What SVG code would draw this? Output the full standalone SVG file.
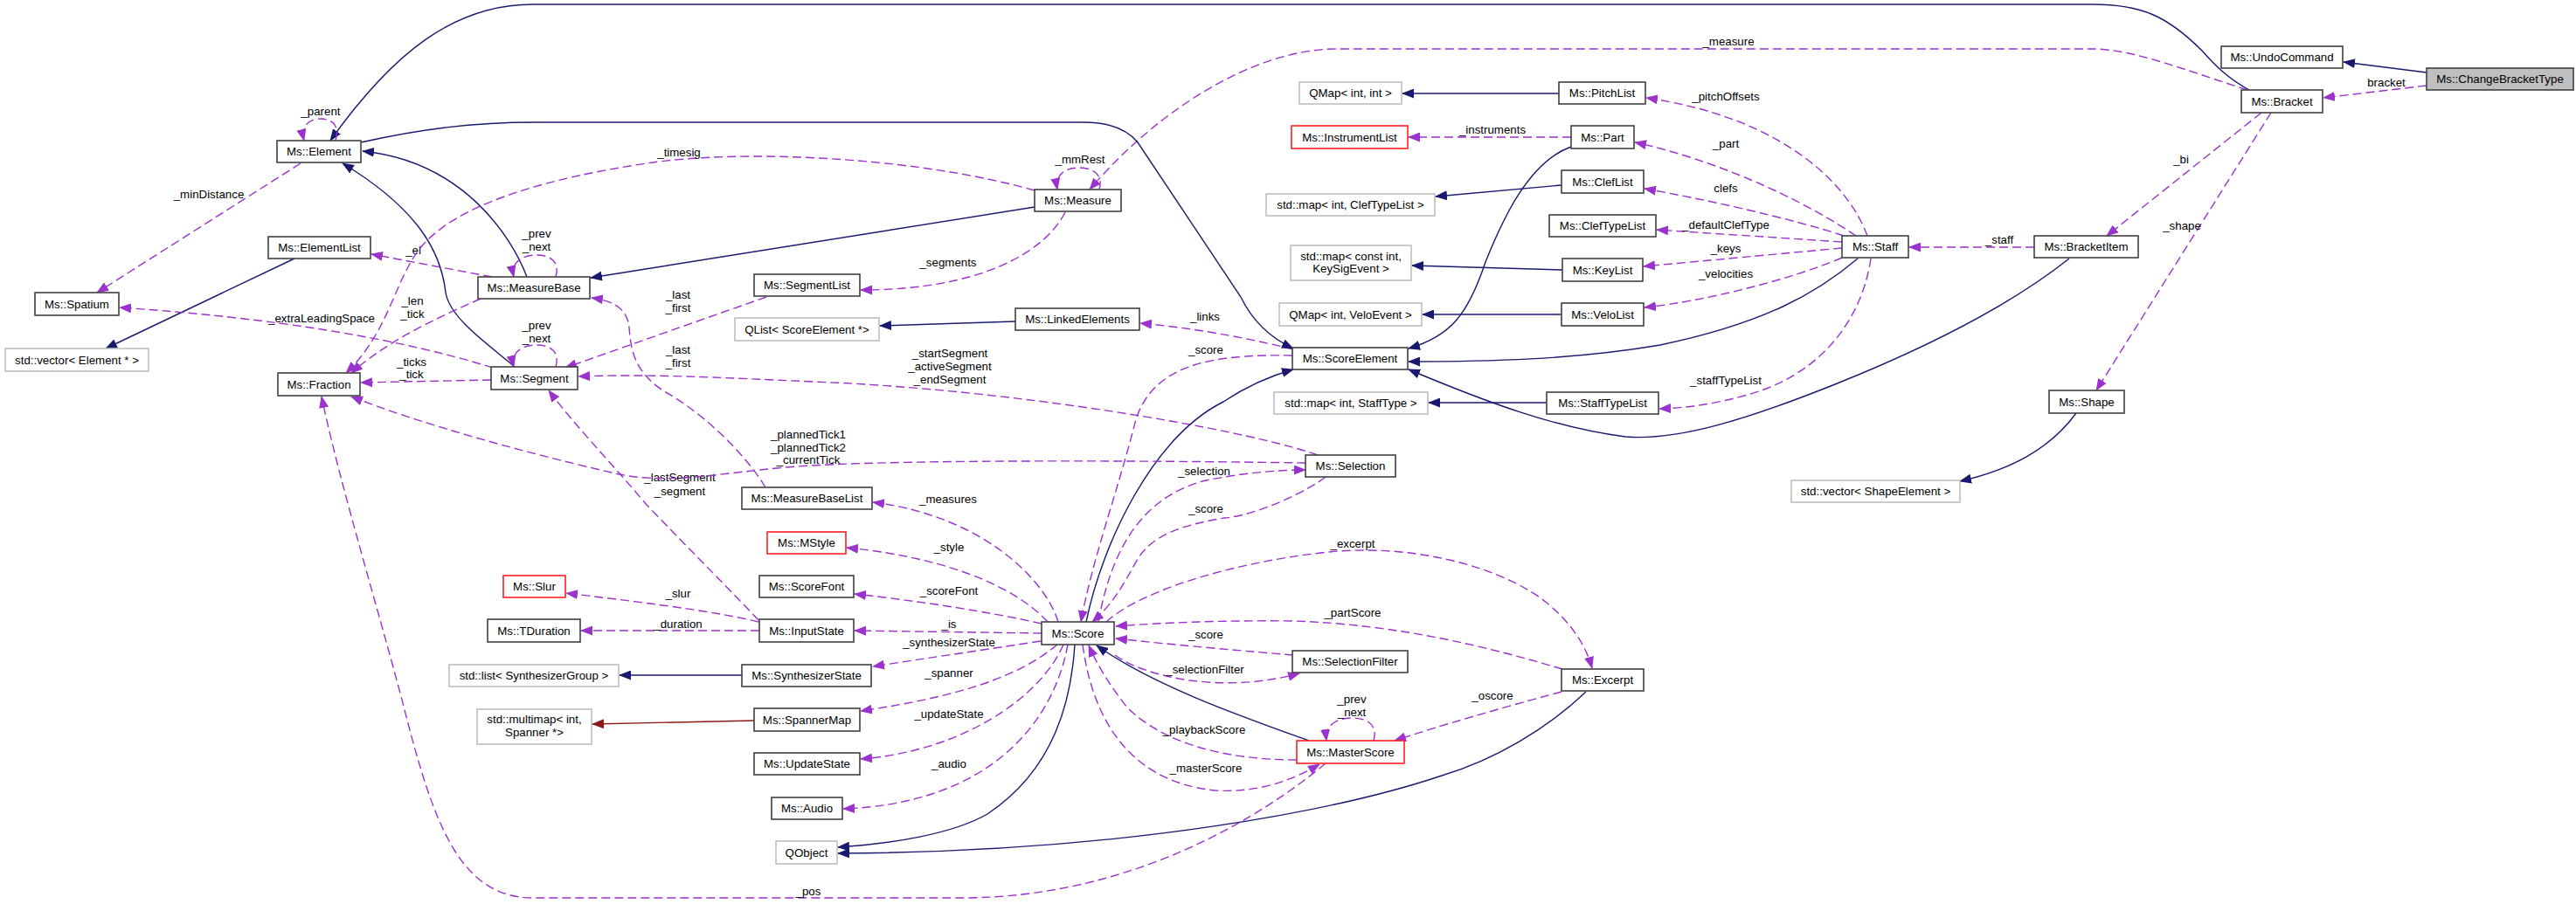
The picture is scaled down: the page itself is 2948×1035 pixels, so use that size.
<svg xmlns="http://www.w3.org/2000/svg" width="2948" height="1035" viewBox="0 0 2948 1035">
<style>
.nd rect{fill:#fff;stroke:#404040;stroke-width:1.6}
.nd.gr rect{stroke:#bfbfbf}
.nd.rd rect{stroke:#ff2020}
.nd.hl rect{fill:#bfbfbf}
text{font-family:"Liberation Sans",Arial,Helvetica,sans-serif;font-size:13.3px;fill:#000}
.nd text{text-anchor:middle}
.lb{text-anchor:middle}
.inh{fill:none;stroke:#191970;stroke-width:1.4}
.use{fill:none;stroke:#9a32cd;stroke-width:1.4;stroke-dasharray:10,5}
.tpl{fill:none;stroke:#8b1a1a;stroke-width:1.4}
</style>
<defs>
<marker id="ab" markerUnits="userSpaceOnUse" markerWidth="14" markerHeight="11" viewBox="0 0 14 11" refX="13" refY="5.5" orient="auto"><path d="M0,0 L14,5.5 L0,11 z" fill="#191970"/></marker>
<marker id="ap" markerUnits="userSpaceOnUse" markerWidth="14" markerHeight="11" viewBox="0 0 14 11" refX="13" refY="5.5" orient="auto"><path d="M0,0 L14,5.5 L0,11 z" fill="#9a32cd"/></marker>
<marker id="ar" markerUnits="userSpaceOnUse" markerWidth="14" markerHeight="11" viewBox="0 0 14 11" refX="13" refY="5.5" orient="auto"><path d="M0,0 L14,5.5 L0,11 z" fill="#8b1a1a"/></marker>
</defs>
<rect width="2948" height="1035" fill="#fff"/>
<g id="connectors">
<path class="inh" marker-end="url(#ab)" d="M2777,83 L2682,71"/>
<path class="use" marker-end="url(#ap)" d="M2777,98 L2659,112"/><text class="lb" x="2731" y="99">bracket</text>
<path class="inh" marker-end="url(#ab)" d="M2574,103 C2550,90 2535,75 2520,58 C2480,18 2450,5 2395,5 L610,5 C520,5 450,60 378,161"/>
<path class="use" marker-end="url(#ap)" d="M2572,103 C2500,80 2440,56 2395,56 L1530,56 C1440,56 1330,120 1247,217"/><text class="lb" x="1978" y="52">_measure</text>
<path class="use" marker-end="url(#ap)" d="M1258,217 C1263,200 1251,192 1235,192 C1219,192 1207,200 1210,217"/><text class="lb" x="1236" y="187">_mmRest</text>
<path class="inh" marker-end="url(#ab)" d="M1184,237 L676,318"/>
<path class="inh" marker-end="url(#ab)" d="M603,317 C585,270 530,185 415,173"/>
<path class="use" marker-end="url(#ap)" d="M636,317 C641,300 630,292 614,292 C598,292 584,300 588,317"/><text class="lb" x="614" y="272">_prev</text><text class="lb" x="614" y="287">_next</text>
<path class="use" marker-end="url(#ap)" d="M563,317 L425,291"/><text class="lb" x="473" y="291">_el</text>
<path class="inh" marker-end="url(#ab)" d="M589,420 C560,395 515,365 510,335 C505,290 480,240 392,187"/>
<path class="inh" marker-end="url(#ab)" d="M337,296 L121,399"/>
<path class="use" marker-end="url(#ap)" d="M344,187 L111,335"/><text class="lb" x="239" y="227">_minDistance</text>
<path class="use" marker-end="url(#ap)" d="M384,161 C389,145 381,136 367,136 C353,136 344,145 348,161"/><text class="lb" x="367" y="132">_parent</text>
<path class="use" marker-end="url(#ap)" d="M562,435 L413,438"/><text class="lb" x="471" y="419">_ticks</text><text class="lb" x="471" y="433">_tick</text>
<path class="use" marker-end="url(#ap)" d="M564,421 Q400,370 137,352"/><text class="lb" x="368" y="369">_extraLeadingSpace</text>
<path class="use" marker-end="url(#ap)" d="M550,342 C510,360 450,385 402,427"/><text class="lb" x="472" y="349">_len</text><text class="lb" x="472" y="364">_tick</text>
<path class="use" marker-end="url(#ap)" d="M1184,218 C1050,180 850,170 740,187 C620,205 520,235 480,285 C450,325 445,380 396,427"/><text class="lb" x="777" y="179">_timesig</text>
<path class="use" marker-end="url(#ap)" d="M636,420 C641,403 630,395 614,395 C598,395 584,403 588,420"/><text class="lb" x="614" y="377">_prev</text><text class="lb" x="614" y="392">_next</text>
<path class="use" marker-end="url(#ap)" d="M877,340 L647,421"/><text class="lb" x="776" y="342">_last</text><text class="lb" x="776" y="357">_first</text>
<path class="use" marker-end="url(#ap)" d="M1219,243 C1195,290 1120,332 985,332"/><text class="lb" x="1085" y="305">_segments</text>
<path class="use" marker-end="url(#ap)" d="M1508,521 C1420,490 1150,445 930,437 C820,432 740,428 662,431"/><text class="lb" x="1087" y="409">_startSegment</text><text class="lb" x="1087" y="424">_activeSegment</text><text class="lb" x="1087" y="439">_endSegment</text>
<path class="use" marker-end="url(#ap)" d="M876,558 C850,515 800,470 760,448 C725,425 722,400 720,375 C718,355 705,345 677,341"/><text class="lb" x="776" y="405">_last</text><text class="lb" x="776" y="420">_first</text>
<path class="use" marker-end="url(#ap)" d="M868,710 C840,680 790,630 740,578 C700,530 660,490 628,447"/><text class="lb" x="778" y="551">_lastSegment</text><text class="lb" x="778" y="567">_segment</text>
<path class="use" marker-end="url(#ap)" d="M868,712 C810,698 720,688 648,679"/><text class="lb" x="776" y="684">_slur</text>
<path class="use" marker-end="url(#ap)" d="M869,722 L665,722"/><text class="lb" x="776" y="719">_duration</text>
<path class="use" marker-end="url(#ap)" d="M1192,725 L978,722"/><text class="lb" x="1086" y="719">_is</text>
<path class="use" marker-end="url(#ap)" d="M1191,734 L999,763"/><text class="lb" x="1086" y="740">_synthesizerState</text>
<path class="inh" marker-end="url(#ab)" d="M849,773 L709,773"/>
<path class="tpl" marker-end="url(#ar)" d="M863,825 L678,829"/>
<path class="use" marker-end="url(#ap)" d="M1210,738 C1160,780 1080,800 985,814"/><text class="lb" x="1086" y="775">_spanner</text>
<path class="use" marker-end="url(#ap)" d="M1217,738 C1190,800 1100,860 985,869"/><text class="lb" x="1086" y="822">_updateState</text>
<path class="use" marker-end="url(#ap)" d="M1222,738 C1205,830 1130,920 965,926"/><text class="lb" x="1086" y="879">_audio</text>
<path class="inh" marker-end="url(#ab)" d="M1230,738 C1226,800 1208,880 1130,932 C1090,955 1020,966 959,970"/>
<path class="inh" marker-end="url(#ab)" d="M1815,792 C1770,835 1710,870 1650,888 C1540,925 1300,975 959,977"/>
<path class="use" marker-end="url(#ap)" d="M1211,712 C1195,660 1120,590 999,575"/><text class="lb" x="1085" y="576">_measures</text>
<path class="use" marker-end="url(#ap)" d="M1199,712 C1170,680 1100,640 969,627"/><text class="lb" x="1086" y="631">_style</text>
<path class="use" marker-end="url(#ap)" d="M1192,714 C1130,700 1050,688 978,680"/><text class="lb" x="1086" y="681">_scoreFont</text>
<path class="inh" marker-end="url(#ab)" d="M1243,712 C1262,620 1320,500 1400,460 C1430,440 1455,430 1480,423"/>
<path class="use" marker-end="url(#ap)" d="M1479,407 C1380,405 1320,420 1300,480 C1280,560 1250,640 1237,712"/><text class="lb" x="1380" y="405">_score</text>
<path class="use" marker-end="url(#ap)" d="M1480,400 C1420,385 1360,375 1305,370"/><text class="lb" x="1379" y="367">_links</text>
<path class="inh" marker-end="url(#ab)" d="M1162,368 L1007,373"/>
<path class="inh" marker-end="url(#ab)" d="M413,163 C480,148 540,140 613,140 L1240,140 C1270,140 1290,148 1302,163 L1420,340 C1432,365 1450,385 1480,399"/>
<path class="inh" marker-end="url(#ab)" d="M1798,168 C1750,185 1720,250 1700,300 C1680,360 1660,385 1612,399"/>
<path class="inh" marker-end="url(#ab)" d="M2126,296 C2080,335 2020,370 1900,395 C1800,412 1700,414 1612,414"/>
<path class="inh" marker-end="url(#ab)" d="M2368,296 C2300,350 2200,400 2100,440 C2000,480 1920,505 1860,500 C1780,490 1700,460 1612,423"/>
<path class="use" marker-end="url(#ap)" d="M2588,129 L2411,270"/><text class="lb" x="2496" y="187">_bi</text>
<path class="use" marker-end="url(#ap)" d="M2599,129 L2399,447"/><text class="lb" x="2497" y="263">_shape</text>
<path class="inh" marker-end="url(#ab)" d="M2376,473 C2345,515 2300,538 2243,551"/>
<path class="use" marker-end="url(#ap)" d="M2328,283 L2185,283"/><text class="lb" x="2288" y="279">_staff</text>
<path class="use" marker-end="url(#ap)" d="M2137,270 C2115,210 2040,135 1884,112"/><text class="lb" x="1975" y="115">_pitchOffsets</text>
<path class="use" marker-end="url(#ap)" d="M2124,270 C2050,220 1950,180 1871,163"/><text class="lb" x="1975" y="169">_part</text>
<path class="use" marker-end="url(#ap)" d="M2110,270 C2050,250 1950,228 1882,216"/><text class="lb" x="1975" y="220">clefs</text>
<path class="use" marker-end="url(#ap)" d="M2108,277 L1896,263"/><text class="lb" x="1975" y="262">_defaultClefType</text>
<path class="use" marker-end="url(#ap)" d="M2108,284 L1881,305"/><text class="lb" x="1975" y="289">_keys</text>
<path class="use" marker-end="url(#ap)" d="M2108,295 C2050,320 1950,345 1882,352"/><text class="lb" x="1975" y="318">_velocities</text>
<path class="use" marker-end="url(#ap)" d="M2141,296 C2130,370 2080,430 2000,452 C1960,463 1930,467 1899,468"/><text class="lb" x="1975" y="440">_staffTypeList</text>
<path class="inh" marker-end="url(#ab)" d="M1784,107 L1605,107"/>
<path class="use" marker-end="url(#ap)" d="M1798,157 L1612,157"/><text class="lb" x="1708" y="153">_instruments</text>
<path class="inh" marker-end="url(#ab)" d="M1787,212 L1643,225"/>
<path class="inh" marker-end="url(#ab)" d="M1788,309 L1616,304"/>
<path class="inh" marker-end="url(#ab)" d="M1787,360 L1628,360"/>
<path class="inh" marker-end="url(#ab)" d="M1770,461 L1635,461"/>
<path class="use" marker-end="url(#ap)" d="M1276,750 C1310,775 1400,795 1487,771"/><text class="lb" x="1379" y="771">_selectionFilter</text>
<path class="use" marker-end="url(#ap)" d="M1480,750 C1420,745 1340,738 1277,731"/><text class="lb" x="1380" y="731">_score</text>
<path class="use" marker-end="url(#ap)" d="M1788,766 C1700,740 1600,715 1480,711 C1400,710 1330,713 1277,717"/><text class="lb" x="1548" y="706">_partScore</text>
<path class="use" marker-end="url(#ap)" d="M1266,712 C1300,680 1400,645 1520,632 C1620,622 1720,650 1770,690 C1800,715 1815,740 1822,765"/><text class="lb" x="1548" y="627">_excerpt</text>
<path class="use" marker-end="url(#ap)" d="M1257,712 C1270,640 1300,570 1380,550 C1420,542 1460,538 1494,538"/><text class="lb" x="1378" y="544">_selection</text>
<path class="use" marker-end="url(#ap)" d="M1517,546 C1500,560 1440,590 1401,593 C1360,600 1320,610 1302,640 C1285,670 1275,690 1250,712"/><text class="lb" x="1380" y="587">_score</text>
<path class="use" marker-end="url(#ap)" d="M1572,848 C1577,830 1565,822 1547,822 C1530,822 1516,830 1518,848"/><text class="lb" x="1547" y="805">_prev</text><text class="lb" x="1547" y="820">_next</text>
<path class="use" marker-end="url(#ap)" d="M1787,792 C1720,810 1650,830 1596,848"/><text class="lb" x="1708" y="801">_oscore</text>
<path class="inh" marker-end="url(#ab)" d="M1498,848 C1420,820 1320,785 1255,739"/>
<path class="use" marker-end="url(#ap)" d="M1484,870 C1400,870 1330,850 1290,810 C1270,785 1255,760 1246,739"/><text class="lb" x="1378" y="840">_playbackScore</text>
<path class="use" marker-end="url(#ap)" d="M1239,738 C1250,820 1290,895 1391,905 C1440,908 1480,893 1510,875"/><text class="lb" x="1380" y="884">_masterScore</text>
<path class="use" marker-end="url(#ap)" d="M1517,874 C1450,930 1300,1028 1100,1028 L610,1028 C530,1028 500,950 470,840 C440,720 390,560 368,454"/><text class="lb" x="925" y="1025">_pos</text>
<path class="use" marker-end="url(#ap)" d="M1494,530 C1300,527 1000,526 900,535 C820,542 760,556 700,541 C600,518 480,485 402,454"/><text class="lb" x="925" y="502">_plannedTick1</text><text class="lb" x="925" y="517">_plannedTick2</text><text class="lb" x="925" y="531">_currentTick</text>
</g>
<g id="n-ChangeBracketType" class="nd hl"><rect x="2777" y="78" width="168" height="25"/><text x="2861" y="95">Ms::ChangeBracketType</text></g>
<g id="n-UndoCommand" class="nd"><rect x="2542" y="53" width="139" height="25"/><text x="2611.5" y="70">Ms::UndoCommand</text></g>
<g id="n-Bracket" class="nd"><rect x="2565" y="103" width="93" height="26"/><text x="2611.5" y="120.7">Ms::Bracket</text></g>
<g id="n-BracketItem" class="nd"><rect x="2328" y="270" width="119" height="25"/><text x="2387.5" y="287">Ms::BracketItem</text></g>
<g id="n-Shape" class="nd"><rect x="2345" y="447" width="86" height="26"/><text x="2388" y="464.7">Ms::Shape</text></g>
<g id="n-vectorShapeElement" class="nd gr"><rect x="2050" y="550" width="193" height="25"/><text x="2146.5" y="567">std::vector&lt; ShapeElement &gt;</text></g>
<g id="n-Staff" class="nd"><rect x="2108" y="270" width="76" height="25"/><text x="2146" y="287">Ms::Staff</text></g>
<g id="n-PitchList" class="nd"><rect x="1784" y="94" width="99" height="25"/><text x="1833.5" y="111">Ms::PitchList</text></g>
<g id="n-Part" class="nd"><rect x="1798" y="144" width="72" height="26"/><text x="1834" y="161.7">Ms::Part</text></g>
<g id="n-ClefList" class="nd"><rect x="1787" y="195" width="94" height="26"/><text x="1834" y="212.7">Ms::ClefList</text></g>
<g id="n-ClefTypeList" class="nd"><rect x="1773" y="246" width="122" height="25"/><text x="1834" y="263">Ms::ClefTypeList</text></g>
<g id="n-KeyList" class="nd"><rect x="1788" y="296" width="92" height="26"/><text x="1834" y="313.7">Ms::KeyList</text></g>
<g id="n-VeloList" class="nd"><rect x="1787" y="347" width="94" height="26"/><text x="1834" y="364.7">Ms::VeloList</text></g>
<g id="n-StaffTypeList" class="nd"><rect x="1770" y="449" width="128" height="25"/><text x="1834" y="466">Ms::StaffTypeList</text></g>
<g id="n-Excerpt" class="nd"><rect x="1787" y="766" width="94" height="25"/><text x="1834" y="783">Ms::Excerpt</text></g>
<g id="n-QMapIntInt" class="nd gr"><rect x="1487" y="94" width="117" height="25"/><text x="1545.5" y="111">QMap&lt; int, int &gt;</text></g>
<g id="n-InstrumentList" class="nd rd"><rect x="1478" y="144" width="133" height="26"/><text x="1544.5" y="161.7">Ms::InstrumentList</text></g>
<g id="n-mapClefTypeList" class="nd gr"><rect x="1449" y="222" width="193" height="25"/><text x="1545.5" y="239">std::map&lt; int, ClefTypeList &gt;</text></g>
<g id="n-mapKeySigEvent" class="nd gr"><rect x="1477" y="281" width="138" height="40"/><text x="1546" y="297.5">std::map&lt; const int,</text><text x="1546" y="312">KeySigEvent &gt;</text></g>
<g id="n-QMapVeloEvent" class="nd gr"><rect x="1464" y="347" width="163" height="26"/><text x="1545.5" y="364.7">QMap&lt; int, VeloEvent &gt;</text></g>
<g id="n-ScoreElement" class="nd"><rect x="1479" y="398" width="132" height="25"/><text x="1545" y="415">Ms::ScoreElement</text></g>
<g id="n-mapStaffType" class="nd gr"><rect x="1458" y="449" width="176" height="25"/><text x="1546" y="466">std::map&lt; int, StaffType &gt;</text></g>
<g id="n-Selection" class="nd"><rect x="1494" y="521" width="103" height="25"/><text x="1545.5" y="538">Ms::Selection</text></g>
<g id="n-SelectionFilter" class="nd"><rect x="1479" y="745" width="132" height="25"/><text x="1545" y="762">Ms::SelectionFilter</text></g>
<g id="n-MasterScore" class="nd rd"><rect x="1484" y="848" width="123" height="26"/><text x="1545.5" y="865.7">Ms::MasterScore</text></g>
<g id="n-Measure" class="nd"><rect x="1184" y="217" width="99" height="25"/><text x="1233.5" y="234">Ms::Measure</text></g>
<g id="n-LinkedElements" class="nd"><rect x="1162" y="353" width="142" height="25"/><text x="1233" y="370">Ms::LinkedElements</text></g>
<g id="n-Score" class="nd"><rect x="1192" y="712" width="83" height="26"/><text x="1233.5" y="729.7">Ms::Score</text></g>
<g id="n-SegmentList" class="nd"><rect x="863" y="314" width="121" height="25"/><text x="923.5" y="331">Ms::SegmentList</text></g>
<g id="n-QListScoreElement" class="nd gr"><rect x="841" y="364" width="165" height="26"/><text x="923.5" y="381.7">QList&lt; ScoreElement *&gt;</text></g>
<g id="n-MeasureBaseList" class="nd"><rect x="849" y="558" width="149" height="25"/><text x="923.5" y="575">Ms::MeasureBaseList</text></g>
<g id="n-MStyle" class="nd rd"><rect x="878" y="609" width="90" height="25"/><text x="923" y="626">Ms::MStyle</text></g>
<g id="n-ScoreFont" class="nd"><rect x="869" y="659" width="108" height="25"/><text x="923" y="676">Ms::ScoreFont</text></g>
<g id="n-InputState" class="nd"><rect x="869" y="709" width="108" height="26"/><text x="923" y="726.7">Ms::InputState</text></g>
<g id="n-SynthesizerState" class="nd"><rect x="849" y="761" width="148" height="25"/><text x="923" y="778">Ms::SynthesizerState</text></g>
<g id="n-SpannerMap" class="nd"><rect x="863" y="811" width="121" height="26"/><text x="923.5" y="828.7">Ms::SpannerMap</text></g>
<g id="n-UpdateState" class="nd"><rect x="863" y="862" width="121" height="25"/><text x="923.5" y="879">Ms::UpdateState</text></g>
<g id="n-Audio" class="nd"><rect x="883" y="913" width="81" height="25"/><text x="923.5" y="930">Ms::Audio</text></g>
<g id="n-QObject" class="nd gr"><rect x="888" y="963" width="70" height="26"/><text x="923" y="980.7">QObject</text></g>
<g id="n-MeasureBase" class="nd"><rect x="547" y="317" width="128" height="25"/><text x="611" y="334">Ms::MeasureBase</text></g>
<g id="n-Segment" class="nd"><rect x="562" y="420" width="99" height="26"/><text x="611.5" y="437.7">Ms::Segment</text></g>
<g id="n-Slur" class="nd rd"><rect x="576" y="659" width="71" height="25"/><text x="611.5" y="676">Ms::Slur</text></g>
<g id="n-TDuration" class="nd"><rect x="558" y="709" width="106" height="26"/><text x="611" y="726.7">Ms::TDuration</text></g>
<g id="n-listSynthesizerGroup" class="nd gr"><rect x="514" y="761" width="194" height="25"/><text x="611" y="778">std::list&lt; SynthesizerGroup &gt;</text></g>
<g id="n-multimapSpanner" class="nd gr"><rect x="546" y="812" width="131" height="40"/><text x="611.5" y="828">std::multimap&lt; int,</text><text x="611.5" y="843">Spanner *&gt;</text></g>
<g id="n-Element" class="nd"><rect x="317" y="161" width="96" height="25"/><text x="365" y="178">Ms::Element</text></g>
<g id="n-ElementList" class="nd"><rect x="307" y="271" width="117" height="25"/><text x="365.5" y="288">Ms::ElementList</text></g>
<g id="n-Fraction" class="nd"><rect x="318" y="427" width="94" height="26"/><text x="365" y="444.7">Ms::Fraction</text></g>
<g id="n-Spatium" class="nd"><rect x="40" y="335" width="96" height="26"/><text x="88" y="352.7">Ms::Spatium</text></g>
<g id="n-vectorElement" class="nd gr"><rect x="6" y="399" width="164" height="26"/><text x="88" y="416.7">std::vector&lt; Element * &gt;</text></g>
</svg>
